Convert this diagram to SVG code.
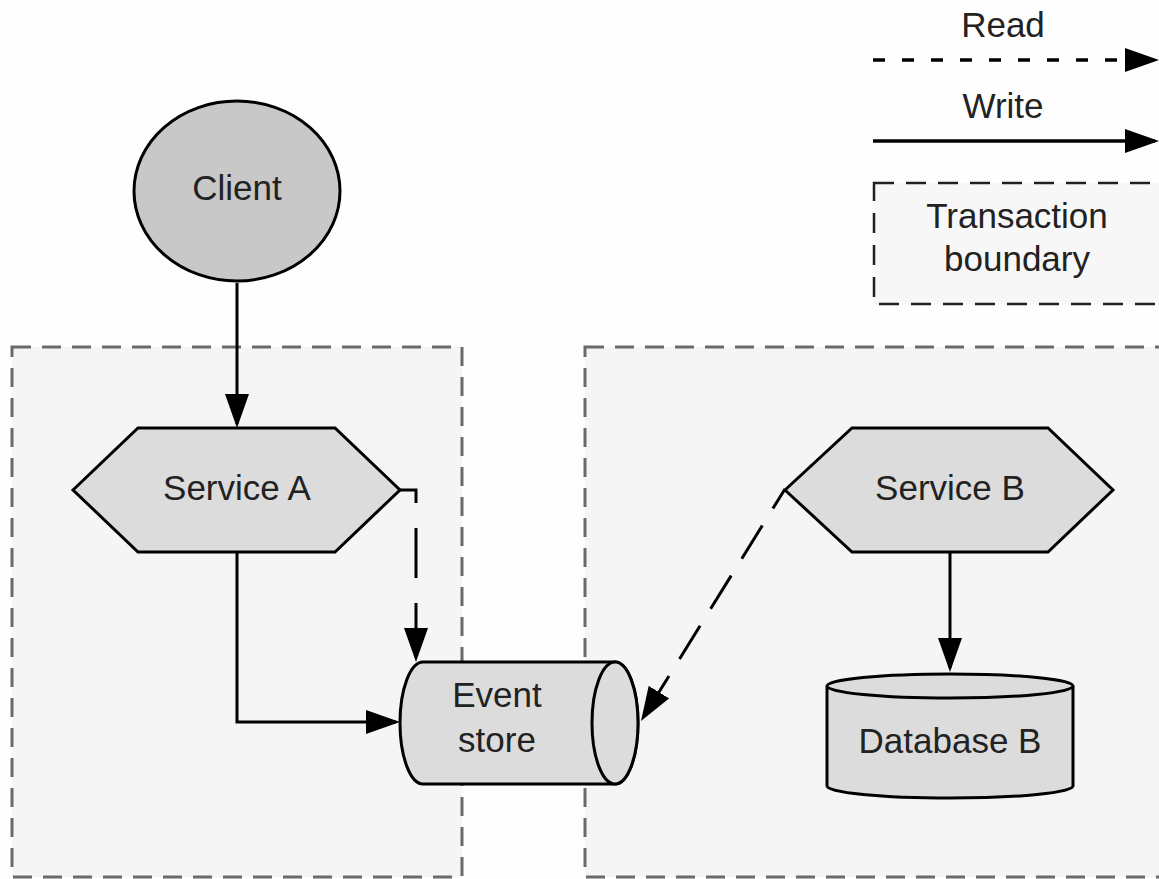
<svg xmlns="http://www.w3.org/2000/svg" width="1159" height="879" viewBox="0 0 1159 879">
<defs>
<marker id="arr" markerUnits="userSpaceOnUse" markerWidth="34" markerHeight="24" refX="30" refY="12" orient="auto">
<path d="M0,0 L34,12 L0,24 z" fill="#000" stroke="none"/>
</marker>
<style>
text{font-family:"Liberation Sans",Arial,sans-serif;font-size:35px;fill:#222;text-anchor:middle}
.node{fill:#dcdcdc;stroke:#000;stroke-width:3}
.bound{fill:#f5f5f5;stroke:#6a6a6a;stroke-width:3;stroke-dasharray:19 11}
.conn{fill:none;stroke:#000;stroke-width:3;marker-end:url(#arr)}
.leg{stroke-width:3.5}
</style>
</defs>
<rect x="0" y="0" width="1159" height="879" fill="#fefefe"/>
<g id="boundaries">
<rect class="bound" x="12" y="347" width="450" height="530"/>
<rect class="bound" x="585" y="347" width="600" height="530"/>
</g>
<g id="legend">
<text x="1003" y="37">Read</text>
<path class="conn leg" d="M873,60 H1155" stroke-dasharray="12 17"/>
<text x="1003" y="118">Write</text>
<path class="conn leg" d="M873,141 H1155"/>
<rect x="874" y="183" width="320" height="121" fill="#f7f7f7" stroke="#222" stroke-width="2.5" stroke-dasharray="20 12"/>
<text x="1017" y="228">Transaction</text>
<text x="1017" y="271">boundary</text>
</g>
<g id="client">
<ellipse cx="237" cy="191" rx="103" ry="90" fill="#c8c8c8" stroke="#000" stroke-width="3"/>
<text x="237" y="200">Client</text>
</g>
<g id="service-a">
<polygon class="node" points="73,490 138,428 335,428 400,490 335,552 138,552"/>
<text x="237" y="500">Service A</text>
</g>
<g id="service-b">
<polygon class="node" points="785,490 852,428 1048,428 1113,490 1048,552 852,552"/>
<text x="950" y="500">Service B</text>
</g>
<g id="event-store">
<path class="node" d="M423,662 H615 A23,61 0 0 1 615,784 H423 A23,61 0 0 1 423,662 z"/>
<ellipse class="node" cx="615" cy="723" rx="23" ry="61"/>
<text x="497" y="707">Event</text>
<text x="497" y="752">store</text>
</g>
<g id="database-b">
<path class="node" d="M827,686 V786 A123,12 0 0 0 1073,786 V686"/>
<ellipse class="node" cx="950" cy="686" rx="123" ry="12"/>
<text x="950" y="753">Database B</text>
</g>
<g id="connectors">
<path class="conn" d="M237,283 V424"/>
<path class="conn" d="M400,490 H416 V658" stroke-dasharray="50 25" stroke-dashoffset="21"/>
<path class="conn" d="M237,552 V722 H396"/>
<path class="conn" d="M785,489 L643.1,717.6" stroke-dasharray="39 20" stroke-dashoffset="16"/>
<path class="conn" d="M950,552 V668"/>
</g>
</svg>
